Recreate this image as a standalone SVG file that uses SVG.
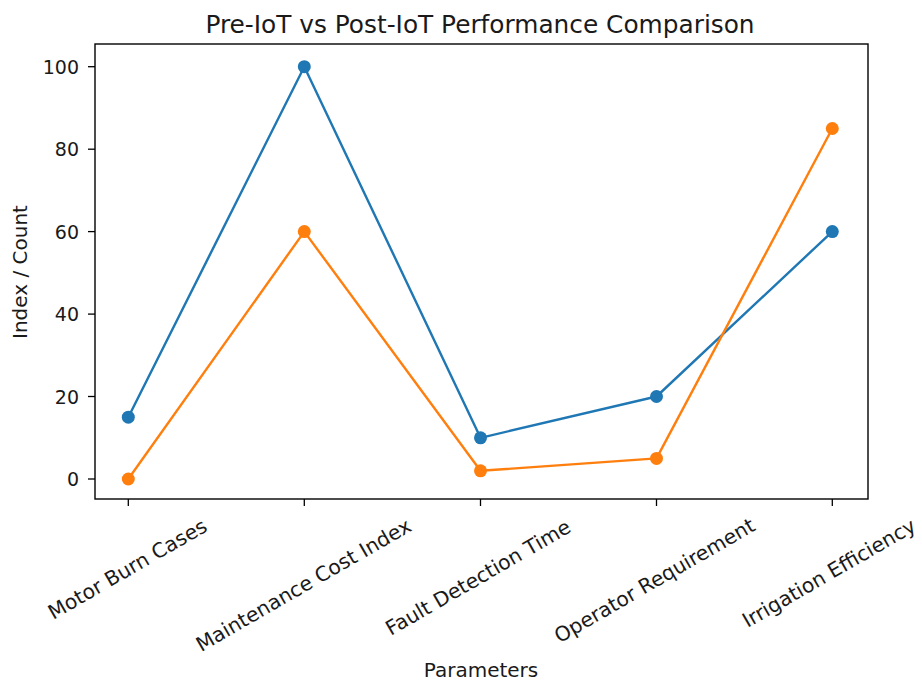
<svg xmlns="http://www.w3.org/2000/svg" width="922" height="683" viewBox="0 0 922 683">
<style>
text{font-family:"DejaVu Sans","Liberation Sans",sans-serif;fill:#1a1a1a}
.yt{font-size:19px;text-anchor:end}
.xt{font-size:20.3px;text-anchor:middle}
.lab{font-size:20px;text-anchor:middle}
.title{font-size:24.8px;text-anchor:middle}
.tick{stroke:#000;stroke-width:1.3}
.spine{fill:none;stroke:#000;stroke-width:1.4}
.pre{fill:none;stroke:#1f77b4;stroke-width:2.4;stroke-linejoin:round}
.post{fill:none;stroke:#ff7f0e;stroke-width:2.4;stroke-linejoin:round}
.mpre{fill:#1f77b4}
.mpost{fill:#ff7f0e}
</style>
<rect width="922" height="683" fill="#fff"/>
<text class="title" x="480" y="33">Pre-IoT vs Post-IoT Performance Comparison</text>
<g id="axes">
<rect class="spine" x="95" y="44" width="773" height="455"/>
<g id="yticks">
<line class="tick" x1="88" y1="479" x2="95" y2="479"/>
<line class="tick" x1="88" y1="396.5" x2="95" y2="396.5"/>
<line class="tick" x1="88" y1="314.1" x2="95" y2="314.1"/>
<line class="tick" x1="88" y1="231.6" x2="95" y2="231.6"/>
<line class="tick" x1="88" y1="149.2" x2="95" y2="149.2"/>
<line class="tick" x1="88" y1="66.7" x2="95" y2="66.7"/>
<text class="yt" x="79" y="486">0</text>
<text class="yt" x="79" y="403.5">20</text>
<text class="yt" x="79" y="321.1">40</text>
<text class="yt" x="79" y="238.6">60</text>
<text class="yt" x="79" y="156.2">80</text>
<text class="yt" x="79" y="73.7">100</text>
</g>
<g id="xticks">
<line class="tick" x1="128.3" y1="499" x2="128.3" y2="506"/>
<line class="tick" x1="304.3" y1="499" x2="304.3" y2="506"/>
<line class="tick" x1="480.5" y1="499" x2="480.5" y2="506"/>
<line class="tick" x1="656.5" y1="499" x2="656.5" y2="506"/>
<line class="tick" x1="832.3" y1="499" x2="832.3" y2="506"/>
<text class="xt" transform="translate(127.5,569) rotate(-30)" y="7">Motor Burn Cases</text>
<text class="xt" transform="translate(303.5,585) rotate(-30)" y="7">Maintenance Cost Index</text>
<text class="xt" transform="translate(478,577.5) rotate(-30)" y="7">Fault Detection Time</text>
<text class="xt" transform="translate(654.5,580.5) rotate(-30)" y="7">Operator Requirement</text>
<text class="xt" transform="translate(829,573) rotate(-30)" y="7">Irrigation Efficiency</text>
</g>
<text class="lab" x="481" y="677">Parameters</text>
<text class="lab" transform="translate(27,272) rotate(-90)">Index / Count</text>
</g>
<g id="connectors">
<polyline id="pre-iot" class="pre" points="128.3,417.2 304.3,66.7 480.5,437.8 656.5,396.5 832.3,231.6"/>
<g id="pre-markers" class="mpre">
<circle cx="128.3" cy="417.2" r="6.5"/>
<circle cx="304.3" cy="66.7" r="6.5"/>
<circle cx="480.5" cy="437.8" r="6.5"/>
<circle cx="656.5" cy="396.5" r="6.5"/>
<circle cx="832.3" cy="231.6" r="6.5"/>
</g>
<polyline id="post-iot" class="post" points="128.3,479 304.3,231.6 480.5,470.8 656.5,458.4 832.3,128.5"/>
<g id="post-markers" class="mpost">
<circle cx="128.3" cy="479" r="6.5"/>
<circle cx="304.3" cy="231.6" r="6.5"/>
<circle cx="480.5" cy="470.8" r="6.5"/>
<circle cx="656.5" cy="458.4" r="6.5"/>
<circle cx="832.3" cy="128.5" r="6.5"/>
</g>
</g>
</svg>
